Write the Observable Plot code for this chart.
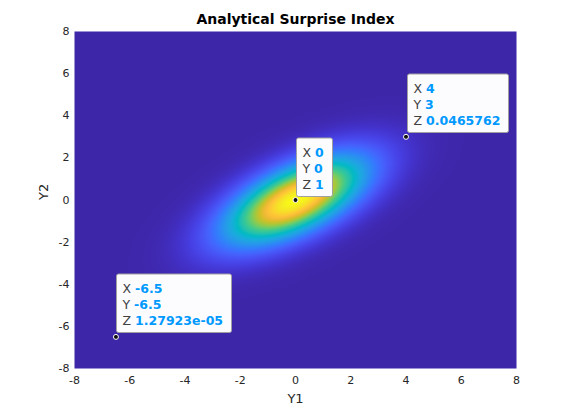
<!DOCTYPE html>
<html>
<head>
<meta charset="utf-8">
<script src="https://cdn.jsdelivr.net/npm/d3@7"></script>
<script src="https://cdn.jsdelivr.net/npm/@observablehq/plot@0.6"></script>
<style>
  html, body { margin: 0; padding: 0; background: white; }
</style>
</head>
<body>
<div id="chart"></div>
<script>
// ---- data ----
const xTicks = [-8, -6, -4, -2, 0, 2, 4, 6, 8];
const yTicks = [-8, -6, -4, -2, 0, 2, 4, 6, 8];
const domainX = [-8, 8];
const domainY = [-8, 8];
// bivariate Gaussian "surprise index": mean and covariance rows
const mu = [0, 0];
const sigmaRow1 = [3, 1.5];
const sigmaRow2 = [1.5, 2];
// data tips
const tipX = [4, 0, -6.5];
const tipY = [3, 0, -6.5];
const tipZ = [0.0465762, 1, 1.27923e-05];
const titleText = "Analytical Surprise Index";
const xLabel = "Y1";
const yLabel = "Y2";

// ---- parula colormap (style) ----
const parulaStops = [
  [0.2422,0.1504,0.6603],[0.2647,0.1978,0.7952],[0.2783,0.2559,0.8991],[0.2810,0.3228,0.9579],
  [0.2699,0.3892,0.9906],[0.2206,0.4603,0.9973],[0.1786,0.5289,0.9682],[0.1540,0.5902,0.9218],
  [0.1248,0.6459,0.8883],[0.0689,0.6948,0.8394],[0.0067,0.7312,0.7660],[0.1408,0.7584,0.6842],
  [0.2161,0.7843,0.5923],[0.3406,0.8008,0.4789],[0.5044,0.7993,0.3480],[0.6720,0.7793,0.2227],
  [0.8203,0.7498,0.1535],[0.9393,0.7288,0.2100],[0.9970,0.7659,0.2199],[0.9786,0.8386,0.1766],
  [0.9597,0.9135,0.1423],[0.9769,0.9839,0.0805]
].map(([r,g,b]) => `rgb(${Math.round(r*255)},${Math.round(g*255)},${Math.round(b*255)})`);
const parula = d3.piecewise(d3.interpolateRgb, parulaStops);

// ---- analytic surface ----
const det = sigmaRow1[0]*sigmaRow2[1] - sigmaRow1[1]*sigmaRow2[0];
const inv = [[sigmaRow2[1]/det, -sigmaRow1[1]/det], [-sigmaRow2[0]/det, sigmaRow1[0]/det]];
function surprise(x, y) {
  const dx = x - mu[0], dy = y - mu[1];
  const q = dx*(inv[0][0]*dx + inv[0][1]*dy) + dy*(inv[1][0]*dx + inv[1][1]*dy);
  return Math.exp(-0.5*q);
}

function fmtG(v) {
  if (v === 0) return "0";
  const e = Math.floor(Math.log10(Math.abs(v)));
  if (e < -4 || e >= 6) {
    let [m, ex] = v.toExponential(5).split("e");
    m = m.replace(/\.?0+$/, "");
    const sign = ex[0] === "-" ? "-" : "+";
    return m + "e" + sign + ex.replace(/^[+-]/, "").padStart(2, "0");
  }
  return String(+v.toPrecision(6));
}

const FONT = "DejaVu Sans";
const tipFont = 12.5;
const tipPoints = tipX.map((x, i) => ({x, y: tipY[i], z: tipZ[i]}));

function datatips(index, scales) {
  const g = d3.create("svg:g").attr("text-anchor", "start");
  const ctx = document.createElement("canvas").getContext("2d");
  tipPoints.forEach(p => {
    const px = Math.round(scales.x(p.x)), py = Math.round(scales.y(p.y));
    const vals = [fmtG(p.x), fmtG(p.y), fmtG(p.z)];
    ctx.font = `${tipFont}px "${FONT}"`;
    const lw = ctx.measureText("X ").width;
    ctx.font = `bold ${tipFont}px "${FONT}"`;
    const vw = Math.max(...vals.map(v => ctx.measureText(v).width));
    const left = px + 1.5, bottom = py - 3.5, h = 58.5;
    const w = Math.round(6.5 + lw + vw + 8);
    g.append("rect")
      .attr("x", left).attr("y", bottom - h)
      .attr("width", w).attr("height", h)
      .attr("rx", 2)
      .attr("fill", "#fcfcff")
      .attr("stroke", "#a0a0a0")
      .attr("stroke-width", 1);
    const labs = ["X", "Y", "Z"];
    labs.forEach((lab, j) => {
      const t = g.append("text")
        .attr("x", left + 6)
        .attr("y", bottom - 8 - 16*(2 - j))
        .attr("text-anchor", "start")
        .attr("font-family", FONT)
        .attr("font-size", tipFont);
      t.append("tspan").attr("fill", "#404040").text(lab + " ");
      t.append("tspan").attr("fill", "#0099ff").attr("font-weight", "bold").text(vals[j]);
    });
  });
  return g.node();
}

const chart = Plot.plot({
  width: 570,
  height: 413,
  marginLeft: 74,
  marginRight: 54,
  marginTop: 31,
  marginBottom: 45,
  style: {fontFamily: FONT, background: "white", overflow: "visible"},
  x: {domain: domainX},
  y: {domain: domainY},
  color: {type: "linear", domain: [0, 1], interpolate: parula},
  marks: [
    Plot.raster({fill: (x, y) => surprise(x, y), x1: domainX[0], x2: domainX[1], y1: domainY[0], y2: domainY[1], pixelSize: 1}),
    Plot.axisX({ticks: xTicks, tickFormat: d => String(d), tickSize: 0, tickPadding: 8, fontSize: 11, label: null, color: "#262626"}),
    Plot.axisY({ticks: yTicks, tickFormat: d => String(d), tickSize: 0, tickPadding: 5, fontSize: 11, label: null, color: "#262626"}),
    Plot.text([xLabel], {text: d => d, frameAnchor: "bottom", lineAnchor: "middle", dy: 30, fontSize: 13, fill: "#262626"}),
    Plot.text([yLabel], {text: d => d, frameAnchor: "left", lineAnchor: "middle", dx: -31, rotate: -90, fontSize: 13, fill: "#262626"}),
    Plot.text([titleText], {text: d => d, frameAnchor: "top", lineAnchor: "middle", dy: -11.5, fontSize: 14, fontWeight: "bold", fill: "black"}),
    datatips,
    Plot.dot(tipPoints, {x: "x", y: "y", r: 2.5, fill: "#111", stroke: "white", strokeWidth: 1})
  ]
});
document.getElementById("chart").append(chart);
</script>
</body>
</html>
